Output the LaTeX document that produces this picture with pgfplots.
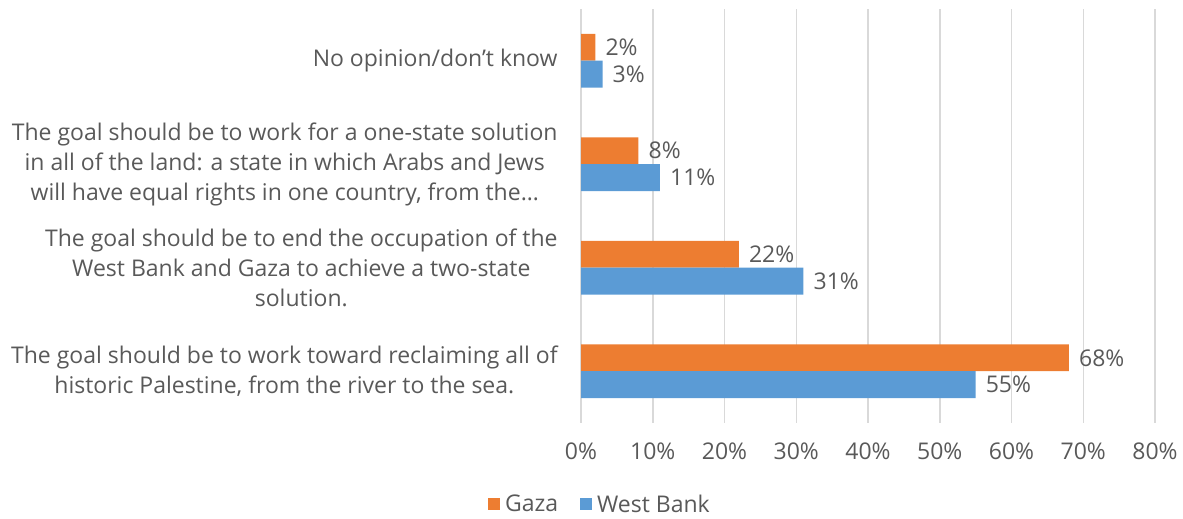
\documentclass[border=0pt]{standalone}
\usepackage{pgfplots}
\pgfplotsset{compat=1.18}
\usepackage{fontspec}
\setmainfont{Open Sans}
\definecolor{gaza}{HTML}{ED7D31}
\definecolor{wb}{HTML}{5B9BD5}
\definecolor{txt}{HTML}{595959}
\definecolor{grd}{HTML}{D9D9D9}
\newcommand{\lblfont}{\fontsize{23bp}{30bp}\selectfont}
\begin{document}
\begin{tikzpicture}[x=1bp,y=1bp]
\useasboundingbox (0,0) rectangle (1183,519);
\begin{axis}[
  at={(581bp,96bp)}, anchor=south west,
  scale only axis, width=574bp, height=414bp,
  xbar, xmin=0, xmax=80, ymin=-0.5, ymax=3.5,
  bar width=0.26,
  xtick={0,10,20,30,40,50,60,70,80},
  xticklabels={0\%,10\%,20\%,30\%,40\%,50\%,60\%,70\%,80\%},
  ytick={0,1,2,3},
  yticklabels={
    {The goal should be to work toward reclaiming all of\\historic Palestine, from the river to the sea.},
    {The goal should be to end the occupation of the\\West Bank and Gaza to achieve a two-state\\solution.},
    {The goal should be to work for a one-state solution\\in all of the land: a state in which Arabs and Jews\\will have equal rights in one country, from the…},
    {No opinion/don’t know}},
  yticklabel style={align=center, font=\lblfont, text=txt, anchor=east, inner sep=0pt, xshift=-19bp},
  xticklabel style={font=\lblfont, text=txt, anchor=north, inner sep=0pt, yshift=-20bp},
  axis line style={draw=none},
  major tick style={draw=none},
  xmajorgrids, grid style={grd, line width=1.5bp},
  point meta=x,
  nodes near coords={\pgfmathprintnumber[assume math mode=true]{\pgfplotspointmeta}\%},
  every node near coord/.append style={anchor=west, font=\lblfont, text=txt, inner sep=0pt, xshift=10bp},
  legend style={at={(0.033,-0.196)}, anchor=center, draw=none, fill=none, legend columns=2, font=\lblfont, text=txt,
     /tikz/every even column/.append style={column sep=20bp},
     /tikz/every odd column/.append style={inner xsep=2bp}},
  legend image code/.code={\fill[#1] (0bp,-6bp) rectangle (12bp,6bp); \path (15bp,0bp);},
]
\addplot[fill=gaza, draw=none, bar shift=0.13] coordinates {(68,0) (22,1) (8,2) (2,3)};
\addlegendentry{Gaza}
\addplot[fill=wb, draw=none, bar shift=-0.13] coordinates {(55,0) (31,1) (11,2) (3,3)};
\addlegendentry{West Bank}
\end{axis}
\end{tikzpicture}
\end{document}
